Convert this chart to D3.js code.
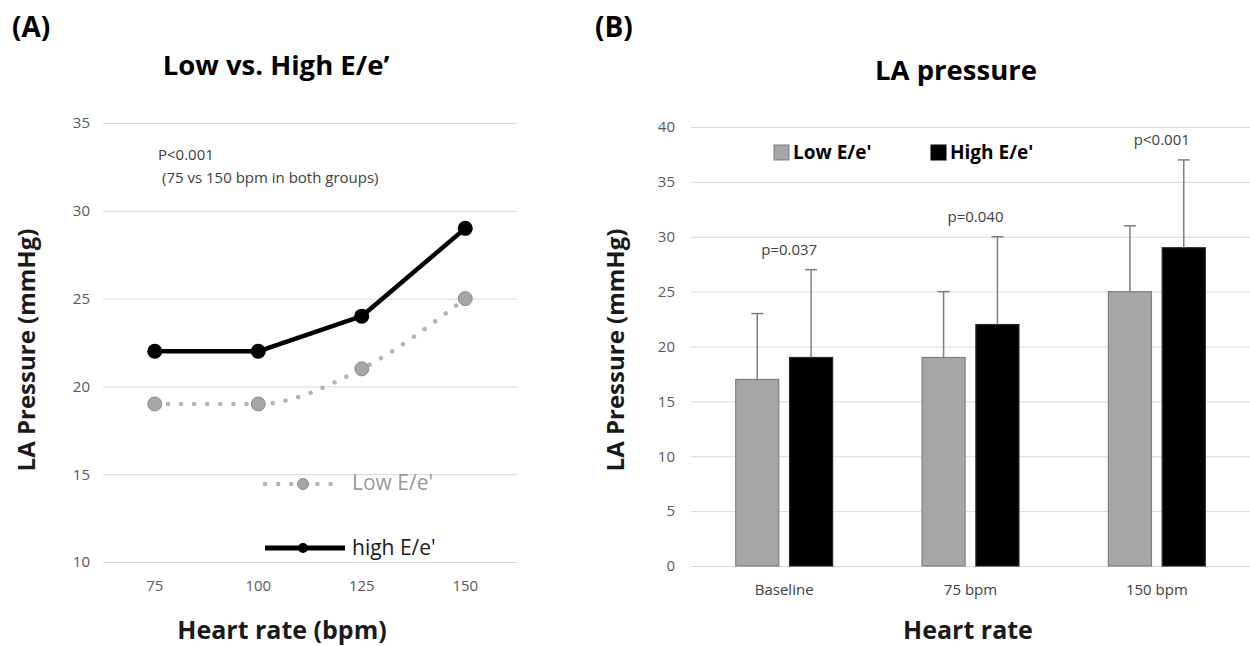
<!DOCTYPE html>
<html>
<head>
<meta charset="utf-8">
<script src="https://cdn.jsdelivr.net/npm/d3@7"></script>
<style>
  body { margin: 0; background: #fff; }
  text { font-family: 'Open Sans', Lato, sans-serif; }
</style>
</head>
<body>
<svg id="chart" width="1250" height="646"></svg>
<script>
// panel A: line chart
const heartRates = [75, 100, 125, 150];
const lowLine = [19, 19, 21, 25];
const highLine = [22, 22, 24, 29];
const ticksA = [10, 15, 20, 25, 30, 35];

// panel B: bar chart with SD
const phases = ['Baseline', '75 bpm', '150 bpm'];
const groups = ['low', 'high'];
const groupNames = ["Low E/e'", "High E/e'"];
const lowBars = [17, 19, 25];
const highBars = [19, 22, 29];
const lowSD = [6, 6, 6];
const highSD = [8, 8, 8];
const pValues = ['p=0.037', 'p=0.040', 'p<0.001'];
const ticksB = [0, 5, 10, 15, 20, 25, 30, 35, 40];

const svg = d3.select('#chart');
svg.append('rect').attr('width', 1250).attr('height', 646).attr('fill', '#fff');

function styleAxis(g, size, color) {
  g.select('.domain').remove();
  g.selectAll('.tick line').attr('stroke', '#d9d9d9').attr('stroke-width', 1);
  g.selectAll('.tick text').attr('font-size', size).attr('fill', color).attr('font-family', "'Open Sans', sans-serif");
}

// ---------- (A) ----------
const A = { left: 103, right: 517, top: 123, bottom: 562 };
const xA = d3.scaleBand().domain(heartRates).range([A.left, A.right]);
const yA = d3.scaleLinear().domain([10, 35]).range([A.bottom, A.top]);
const cx = h => xA(h) + xA.bandwidth() / 2;

const gyA = svg.append('g').attr('transform', `translate(${A.left},0)`)
  .call(d3.axisLeft(yA).tickValues(ticksA).tickSize(-(A.right - A.left)).tickPadding(13));
styleAxis(gyA, 15, '#595959');

const gxA = svg.append('g').attr('transform', `translate(0,${A.bottom})`)
  .call(d3.axisBottom(xA).tickSize(0).tickPadding(18));
styleAxis(gxA, 15, '#595959');

const lowPts = heartRates.map((h, i) => [cx(h), yA(lowLine[i])]);
const highPts = heartRates.map((h, i) => [cx(h), yA(highLine[i])]);

svg.append('path')
  .attr('d', d3.line().curve(d3.curveMonotoneX)(lowPts))
  .attr('fill', 'none').attr('stroke', '#b4b4b4').attr('stroke-width', 4.5)
  .attr('stroke-linecap', 'round').attr('stroke-dasharray', '0.1 13');

svg.append('path')
  .attr('d', d3.line()(highPts))
  .attr('fill', 'none').attr('stroke', '#000').attr('stroke-width', 4.5)
  .attr('stroke-linejoin', 'round');

svg.selectAll('.low-dot').data(lowPts).enter().append('circle')
  .attr('class', 'low-dot')
  .attr('cx', d => d[0]).attr('cy', d => d[1]).attr('r', 7)
  .attr('fill', '#a6a6a6').attr('stroke', '#8c8c8c').attr('stroke-width', 1);

svg.selectAll('.high-dot').data(highPts).enter().append('circle')
  .attr('class', 'high-dot')
  .attr('cx', d => d[0]).attr('cy', d => d[1]).attr('r', 7.5)
  .attr('fill', '#000');

// legend A
const legA = svg.append('g');
legA.append('line').attr('x1', 265).attr('x2', 335).attr('y1', 484).attr('y2', 484)
  .attr('stroke', '#b4b4b4').attr('stroke-width', 4.5).attr('stroke-linecap', 'round')
  .attr('stroke-dasharray', '0.1 13');
legA.append('circle').attr('cx', 303).attr('cy', 484).attr('r', 5.5)
  .attr('fill', '#a6a6a6').attr('stroke', '#8c8c8c');
legA.append('text').attr('x', 352).attr('y', 490).attr('font-size', 21).attr('fill', '#999')
  .text("Low E/e'");
legA.append('line').attr('x1', 265).attr('x2', 345).attr('y1', 548).attr('y2', 548)
  .attr('stroke', '#000').attr('stroke-width', 5);
legA.append('circle').attr('cx', 303).attr('cy', 548).attr('r', 5).attr('fill', '#000');
legA.append('text').attr('x', 352).attr('y', 555).attr('font-size', 21).attr('fill', '#1a1a1a')
  .text("high E/e'");

svg.append('text').attr('x', 158).attr('y', 160).attr('font-size', 15).attr('fill', '#404040')
  .text('P<0.001');
svg.append('text').attr('x', 162).attr('y', 183).attr('font-size', 15).attr('fill', '#404040')
  .text('(75 vs 150 bpm in both groups)');

svg.append('text').attr('x', 12).attr('y', 37).attr('font-size', 28).attr('font-weight', 700)
  .text('(A)');
svg.append('text').attr('x', 276).attr('y', 75).attr('text-anchor', 'middle')
  .attr('font-size', 27.5).attr('font-weight', 700).text('Low vs. High E/e\u2019');
svg.append('text').attr('x', 282).attr('y', 639).attr('text-anchor', 'middle')
  .attr('font-size', 25).attr('font-weight', 700).attr('fill', '#1a1a1a').text('Heart rate (bpm)');
svg.append('text').attr('transform', 'translate(35,350) rotate(-90)').attr('text-anchor', 'middle')
  .attr('font-size', 24).attr('font-weight', 700).attr('fill', '#1a1a1a').text('LA Pressure (mmHg)');

// ---------- (B) ----------
const B = { left: 691, right: 1250, top: 127, bottom: 566 };
const x0 = d3.scaleBand().domain(phases).range([B.left, B.right]);
const x1 = d3.scaleBand().domain(groups)
  .range([x0.bandwidth() * 0.24, x0.bandwidth() * 0.76]).paddingInner(0.2);
const yB = d3.scaleLinear().domain([0, 40]).range([B.bottom, B.top]);

const gyB = svg.append('g').attr('transform', `translate(${B.left},0)`)
  .call(d3.axisLeft(yB).tickValues(ticksB).tickSize(-(B.right - B.left)).tickPadding(16));
styleAxis(gyB, 15, '#595959');

const gxB = svg.append('g').attr('transform', `translate(0,${B.bottom})`)
  .call(d3.axisBottom(x0).tickSize(0).tickPadding(18));
styleAxis(gxB, 15, '#404040');

const rows = phases.map((p, i) => ({
  phase: p, p: pValues[i],
  vals: [
    { key: 'low', v: lowBars[i], sd: lowSD[i] },
    { key: 'high', v: highBars[i], sd: highSD[i] }
  ]
}));

const gg = svg.selectAll('.grp').data(rows).enter().append('g')
  .attr('class', 'grp').attr('transform', d => `translate(${x0(d.phase)},0)`);

gg.selectAll('rect').data(d => d.vals).enter().append('rect')
  .attr('x', d => x1(d.key)).attr('width', x1.bandwidth())
  .attr('y', d => yB(d.v)).attr('height', d => yB(0) - yB(d.v))
  .attr('fill', d => d.key === 'low' ? '#a6a6a6' : '#000')
  .attr('stroke', d => d.key === 'low' ? '#7f7f7f' : '#262626').attr('stroke-width', 1.2);

const err = gg.selectAll('.err').data(d => d.vals).enter().append('g').attr('class', 'err');
err.append('line')
  .attr('x1', d => x1(d.key) + x1.bandwidth() / 2).attr('x2', d => x1(d.key) + x1.bandwidth() / 2)
  .attr('y1', d => yB(d.v)).attr('y2', d => yB(d.v + d.sd))
  .attr('stroke', '#7f7f7f').attr('stroke-width', 1.5);
err.append('line')
  .attr('x1', d => x1(d.key) + x1.bandwidth() / 2 - 6).attr('x2', d => x1(d.key) + x1.bandwidth() / 2 + 6)
  .attr('y1', d => yB(d.v + d.sd)).attr('y2', d => yB(d.v + d.sd))
  .attr('stroke', '#7f7f7f').attr('stroke-width', 1.5);

gg.append('text')
  .attr('x', x0.bandwidth() / 2 + 5)
  .attr('y', d => yB(d.vals[1].v + d.vals[1].sd) - 15)
  .attr('text-anchor', 'middle').attr('font-size', 15).attr('fill', '#404040')
  .text(d => d.p);

// legend B
const legB = svg.append('g');
const legX = [774, 931];
groups.forEach((k, i) => {
  legB.append('rect').attr('x', legX[i]).attr('y', 145).attr('width', 15).attr('height', 15)
    .attr('fill', k === 'low' ? '#a6a6a6' : '#000').attr('stroke', k === 'low' ? '#7f7f7f' : '#000');
  legB.append('text').attr('x', legX[i] + 19).attr('y', 159).attr('font-size', 19)
    .attr('font-weight', 700).attr('fill', '#000').text(groupNames[i]);
});

svg.append('text').attr('x', 595).attr('y', 37).attr('font-size', 28).attr('font-weight', 700)
  .text('(B)');
svg.append('text').attr('x', 956).attr('y', 80).attr('text-anchor', 'middle')
  .attr('font-size', 27.5).attr('font-weight', 700).text('LA pressure');
svg.append('text').attr('x', 968).attr('y', 639).attr('text-anchor', 'middle')
  .attr('font-size', 25).attr('font-weight', 700).attr('fill', '#1a1a1a').text('Heart rate');
svg.append('text').attr('transform', 'translate(624,350) rotate(-90)').attr('text-anchor', 'middle')
  .attr('font-size', 24).attr('font-weight', 700).attr('fill', '#1a1a1a').text('LA Pressure (mmHg)');
</script>
</body>
</html>
